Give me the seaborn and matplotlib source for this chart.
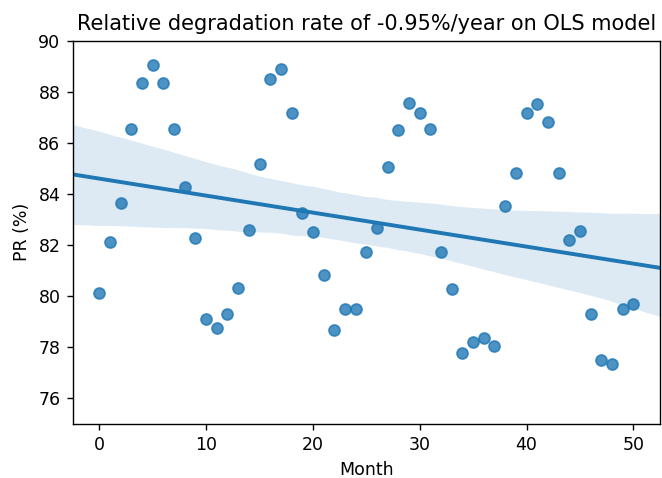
import pandas as pd
import seaborn as sns
import matplotlib
matplotlib.use('Agg')
import matplotlib.pyplot as plt

# Monthly performance ratio values
months = list(range(51))
pr = [80.13, 82.13, 83.64, 86.56, 88.35, 89.05, 88.35, 86.56, 84.27, 82.27,
      79.10, 78.75, 79.29, 80.34, 82.58, 85.18, 88.49, 88.89, 87.18, 83.24,
      82.53, 80.82, 78.67, 79.51, 79.51, 81.73, 82.66, 85.05, 86.50, 87.55,
      87.18, 86.56, 81.73, 80.27, 77.78, 78.21, 78.35, 78.05, 83.52, 84.82,
      87.18, 87.53, 86.82, 84.82, 82.20, 82.57, 79.31, 77.52, 77.36, 79.51,
      79.71]

title = 'Relative degradation rate of -0.95%/year on OLS model'

df = pd.DataFrame({'Month': months, 'PR (%)': pr})

# 662x478 px at dpi 125
fig = plt.figure(figsize=(5.296, 3.824), dpi=125)
ax = fig.add_axes([0.1097, 0.113, 0.8873, 0.8019])

# OLS fit with bootstrapped 95% band, line drawn across the whole x range
sns.regplot(x='Month', y='PR (%)', data=df, ax=ax, color='#1f77b4',
            truncate=False, seed=1, scatter_kws={'s': 40})

ax.set_ylim(75, 90)
ax.set_yticks([76, 78, 80, 82, 84, 86, 88, 90])
ax.set_title(title)

fig.savefig('out.png', dpi=125)
